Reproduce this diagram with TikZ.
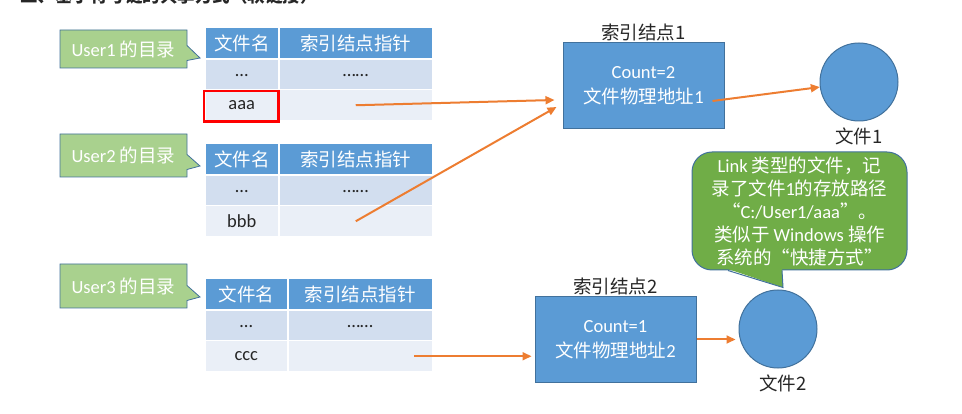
\documentclass[tikz,border=0pt]{standalone}
\usepackage{fontspec}
\setmainfont{Carlito}
\newfontfamily\cjk{Noto Sans CJK SC}
\usetikzlibrary{positioning,arrows.meta,shapes.callouts}
\definecolor{hdrblue}{HTML}{5B9BD5}
\definecolor{cellone}{HTML}{D2DEEF}
\definecolor{celltwo}{HTML}{EAEFF7}
\definecolor{edgeblue}{HTML}{41719C}
\definecolor{arrorange}{HTML}{ED7D31}
\definecolor{callgreen}{HTML}{A9D18E}
\definecolor{bubgreen}{HTML}{70AD47}
\newcommand\zh[1]{{\cjk #1}}
\newcommand\txt{\fontsize{18.5}{23}\selectfont}
\tikzset{node distance=6pt,
cell/.style={anchor=north west, draw=white, line width=1.5pt, inner sep=0,
  minimum height=31pt, font=\txt, text=black!85},
hdr/.style={cell, fill=hdrblue, text=white},
rowa/.style={cell, fill=cellone},
rowb/.style={cell, fill=celltwo},
usercall/.style={rectangle callout, fill=callgreen, draw=edgeblue, line width=0.8pt,
  minimum width=127pt, inner sep=0, callout pointer width=15pt, text=white, font=\txt},
idx/.style={fill=hdrblue, draw=edgeblue, line width=1pt, minimum width=161pt,
  minimum height=86pt, inner sep=0, align=center, text=white,
  font=\fontsize{18.5}{25}\selectfont},
file/.style={circle, fill=hdrblue, draw=edgeblue, line width=1pt, minimum size=78pt, inner sep=0},
lbl/.style={inner sep=0, text=black!85, font=\txt\cjk},
bubble/.style={rounded corners=20pt, fill=bubgreen, draw=edgeblue, line width=1pt,
  minimum width=215pt, minimum height=118pt, inner sep=0, align=center, text=white, font=\txt},
arr/.style={draw=arrorange, line width=2pt, -{Triangle[length=9pt,width=8pt]}}}

\begin{document}
\begin{tikzpicture}[x=1pt,y=-1pt]
\clip (0,0) rectangle (962,414);
\node[anchor=base west, inner sep=0, text=black!85,
  font=\fontsize{17.5}{20}\selectfont\cjk\bfseries] (title) at (20,3) {二、基于符号链的共享方式（软链接）};

% directory tables
\foreach \t/\y/\s/\f in {1/27/278/aaa, 2/143/278/bbb, 3/278/287/ccc}{
  \node[hdr, minimum width={\s-204}] (t\t-n0) at (204,\y) {\zh{文件名}};
  \node[hdr, minimum width={432-\s}] (t\t-p0) at (\s,\y) {\zh{索引结点指针}};
  \node[rowa, minimum width={\s-204}] (t\t-n1) at (204,\y+32) {…};
  \node[rowa, minimum width={432-\s}] (t\t-p1) at (\s,\y+32) {……};
  \node[rowb, minimum width={\s-204}] (t\t-n2) at (204,\y+62) {\f};
  \node[rowb, minimum width={432-\s}] (t\t-p2) at (\s,\y+62) {};
}
\draw[red, line width=2.2pt] ([yshift=-2pt]t1-n2.north west) rectangle ([xshift=-1pt]t1-n2.south east);

% callouts
\foreach \u/\cy/\ch/\py in {1/49/38/58, 2/155.5/43/166, 3/286/44/297}
  \node[usercall, minimum height=\ch, callout absolute pointer={(200,\py)}] (u\u) at (123.5,\cy) {User\u\ \zh{的目录}};

% index nodes and files
\node[idx] (box1) at (643.5,86) {Count=2\\\zh{文件物理地址}1};
\node[lbl, above=1pt of box1] (lab1) {索引结点1};
\node[idx] (box2) at (615.5,339.5) {Count=1\\\zh{文件物理地址}2};
\node[lbl, above=1pt of box2] (lab2) {索引结点2};
\node[file] (file1) at (859,82) {};
\node[lbl, below=6pt of file1] (f1) {文件1};
\node[file] (file2) at (778,329) {};
\node[lbl, below=6pt of file2, xshift=5pt] (f2) {文件2};

% link note
\node[bubble] (note) at (799.5,211) {Link \zh{类型的文件，记}\\
  \zh{录了文件}1\zh{的存放路径}\\
  \zh{“}C:/User1/aaa\zh{”。}\\
  \zh{类似于} Windows \zh{操作}\\
  \zh{系统的“快捷方式”}};
\fill[bubgreen] ([xshift=-71.5pt,yshift=1.5pt]note.south) -- ([shift={(5,-2)}]file2.north)
  -- ([xshift=-17.5pt,yshift=1.5pt]note.south) -- cycle;
\draw[edgeblue, line width=1pt] ([xshift=-71.5pt]note.south) -- ([shift={(5,-2)}]file2.north)
  -- ([xshift=-17.5pt]note.south);

% pointers
\coordinate (a3) at ([xshift=54pt]t3-p2.center);
\draw[arr] (t1-p2.center) -- ([shift={(-8,14)}]box1.west);
\draw[arr] (t2-p2.center) -- ([shift={(-6,21)}]box1.west);
\draw[arr, shorten >=3pt] (a3) -- (a3 -| box2.west);
\draw[arr] ([shift={(-12,15)}]box1.east) -- (file1);
\draw[arr, shorten >=3pt] (box2.east) -- (box2.east -| file2.west);
\end{tikzpicture}
\end{document}
